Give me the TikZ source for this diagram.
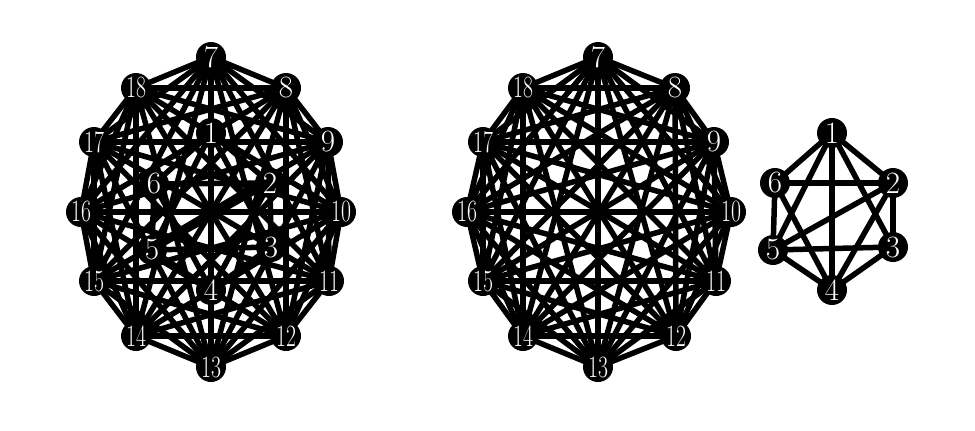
\documentclass[tikz,border=0pt]{standalone}
\usepackage{fontspec}
\usetikzlibrary{backgrounds}
\newcommand\vlab[1]{\ifnum#1>9 \scalebox{.7}[1]{#1}\else#1\fi}
\begin{document}
\begin{tikzpicture}
	[x=1pt,y=-1pt,
	vertex/.style={circle,fill=black,text=white,inner sep=0pt,minimum size=30pt,font=\fontsize{31}{31}\selectfont},
	edge/.style={line width=5.5pt}]
	\useasboundingbox (0,0) rectangle (975,431);
	% ring with the hexagon inside it
	\begin{scope}[shift={(211,212)}]
		\foreach \p/\q [count=\i from 7] in {0/-155,75/-124,117/-70,130/0,118/69,75/124,0/155,-75/124,-117/69,-130/0,-117/-70,-75/-124}
			\node[vertex] (l\i) at (\p,\q) {\vlab{\i}};
		\foreach \p/\q [count=\i] in {0/-79,59/-29,60/35,0/78,-59/38,-57/-28}
			\node[vertex] (l\i) at (\p,\q) {\i};
	\end{scope}
	% the ring alone
	\begin{scope}[shift={(598,212)}]
		\foreach \p/\q [count=\i from 7] in {0/-155,77/-124,116/-70,133/0,118/69,78/124,0/155,-75/124,-115/69,-131/0,-115/-70,-75/-124}
			\node[vertex] (m\i) at (\p,\q) {\vlab{\i}};
	\end{scope}
	% the hexagon alone
	\begin{scope}[shift={(832,212)}]
		\foreach \p/\q [count=\i] in {0/-79,61/-29,61/35,0/78,-59/38,-57/-29}
			\node[vertex] (r\i) at (\p,\q) {\i};
	\end{scope}
	\begin{scope}[on background layer]
		\foreach \i in {7,...,17}{
			\pgfmathtruncatemacro\k{\i+1}
			\foreach \j in {\k,...,18}{
				\draw[edge] (l\i.center) -- (l\j.center);
				\draw[edge] (m\i.center) -- (m\j.center);
			}
		}
		\foreach \a/\b in {1/2,1/3,1/4,1/5,1/6,2/3,2/4,2/5,2/6,3/4,3/5,4/5,4/6,5/6}{
			\draw[edge] (l\a.center) -- (l\b.center);
			\draw[edge] (r\a.center) -- (r\b.center);
		}
	\end{scope}
\end{tikzpicture}
\end{document}
